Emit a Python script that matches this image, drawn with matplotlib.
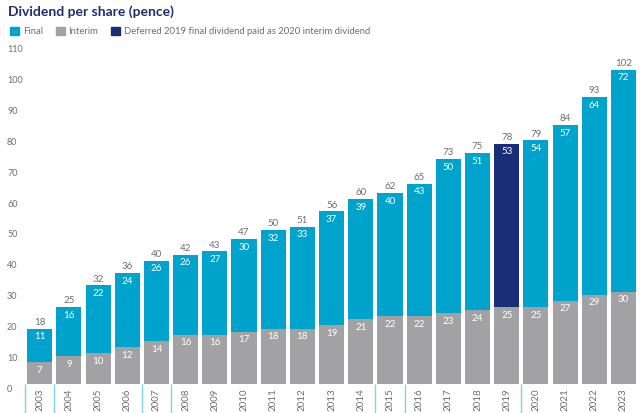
import numpy as np
from matplotlib import pyplot as plt
from matplotlib.patches import Patch
from matplotlib.transforms import ScaledTranslation

plt.rcParams['font.family'] = ['Lato', 'DejaVu Sans']

years = [str(y) for y in range(2003, 2024)]
interim = [7, 9, 10, 12, 14, 16, 16, 17, 18, 18, 19, 21, 22, 22, 23, 24, 25, 25, 27, 29, 30]
final = [11, 16, 22, 24, 26, 26, 27, 30, 32, 33, 37, 39, 40, 43, 50, 51, 53, 54, 57, 64, 72]
deferred_year = '2019'
separators = [-0.5, 0.5, 3.5, 4.5, 11.5, 12.5, 16.5]

c_final = '#00a3cb'
c_interim = '#a2a2a4'
c_def = '#1a2e77'
c_text = '#6d6e71'

fig = plt.figure(figsize=(6.4, 4.13), dpi=100)
ax = fig.add_axes([0.036, 0.0702, 0.961, 0.821])

x = np.arange(len(years))
interim = np.array(interim)
final = np.array(final)
total = interim + final
cols = [c_def if y == deferred_year else c_final for y in years]

w = 0.86
ax.bar(x, interim, w, color=c_interim)
ax.bar(x, final, w, bottom=interim, color=cols)

for i in range(len(years)):
    ax.text(x[i], interim[i] - 1.2, str(interim[i]), ha='center', va='top', color='white', fontsize=7)
    ax.text(x[i], total[i] - 1.2, str(final[i]), ha='center', va='top', color='white', fontsize=7)
    ax.text(x[i], total[i] + 0.6, str(total[i]), ha='center', va='bottom', color=c_text, fontsize=7)

ax.vlines(separators, -0.09, 0, transform=ax.get_xaxis_transform(), color='#7fd3ea', lw=1, clip_on=False)

ax.set_xlim(-0.57, 20.5)
ax.set_ylim(0, 110)
ax.set_yticks(range(0, 111, 10))
ax.set_xticks(x)
ax.set_xticklabels(years, rotation=90)
ax.tick_params(axis='both', length=0, labelsize=6.5, labelcolor=c_text)
ax.tick_params(axis='x', pad=3, labelsize=7)
ax.tick_params(axis='y', pad=11.5)
shift = ScaledTranslation(0, -4 / 100, fig.dpi_scale_trans)
for lab in ax.get_yticklabels():
    lab.set_horizontalalignment('left')
    lab.set_transform(lab.get_transform() + shift)
for s in ax.spines.values():
    s.set_visible(False)

fig.text(0.0125, 0.988, 'Dividend per share (pence)', fontsize=10, fontweight='bold', color='#1f2d6e', va='top')

handles = [Patch(color=c_final), Patch(color=c_interim), Patch(color=c_def)]
labels = ['Final', 'Interim', 'Deferred 2019 final dividend paid as 2020 interim dividend']
leg = fig.legend(handles, labels, loc='upper left', bbox_to_anchor=(0.003, 0.955), ncol=3, frameon=False,
                 fontsize=6.8, handlelength=0.9, handleheight=0.9, handletextpad=0.4, columnspacing=1.4)
for t in leg.get_texts():
    t.set_color(c_text)

plt.savefig('out.png', dpi=100)
